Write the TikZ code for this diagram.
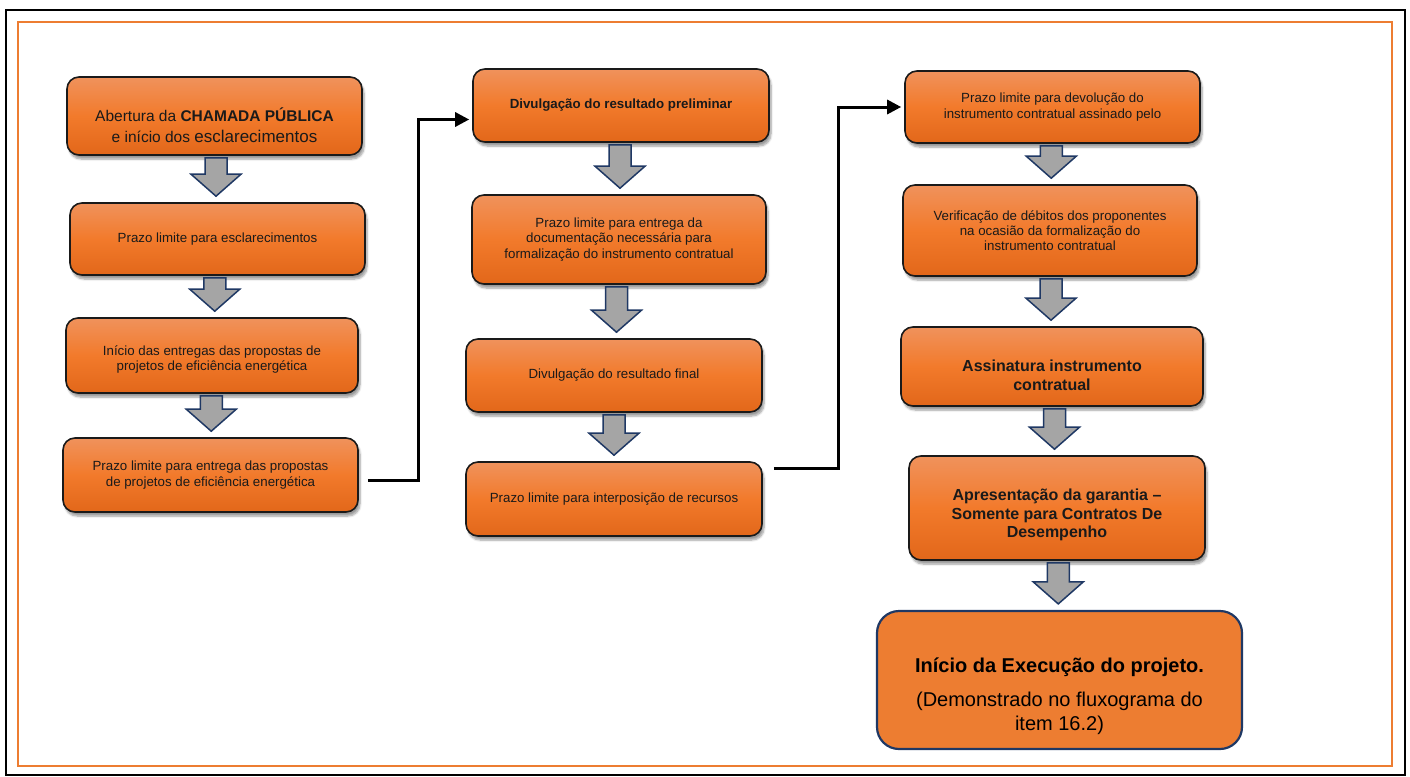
\documentclass[tikz,border=0pt]{standalone}
\usepackage{fontspec}
\setmainfont{Liberation Sans}
\usetikzlibrary{arrows.meta,calc,shadows.blur}

\definecolor{orangeTop}{HTML}{F0925C}
\definecolor{orangeMid}{HTML}{F27A2B}
\definecolor{orangeBot}{HTML}{E2671A}
\definecolor{orangeFlat}{HTML}{ED7D31}
\definecolor{navy}{HTML}{1F3864}
\definecolor{arrowgray}{HTML}{A5A5A5}
\definecolor{inktext}{HTML}{1A1A1A}

% grey block arrow between two boxes of a column
\newcommand{\flowarrow}[2]{%
  \draw[blockarrow] let \p1=(#1.south), \p2=(#2.north), \p3=($(#1.south)!.5!(#2.north)$) in
    (\x3-11pt,\y1-2pt) -- (\x3+11pt,\y1-2pt) -- (\x3+11pt,\y2+28pt) -- (\x3+25pt,\y2+28pt)
    -- (\x3,\y2+6pt) -- (\x3-25pt,\y2+28pt) -- (\x3-11pt,\y2+28pt) -- cycle;}

\begin{document}
\begin{tikzpicture}[x=1pt, y=-1pt]
\tikzstyle{stepr}=[rectangle, rounded corners=12pt, draw=inktext, line width=1.6pt, top color=orangeTop, bottom color=orangeBot, middle color=orangeMid, blur shadow={shadow xshift=2pt, shadow yshift=-4pt, shadow blur steps=6}, align=center, text=inktext, inner sep=2pt, font=\fontsize{13.3}{15.3}\selectfont]
\tikzstyle{stepbig}=[stepr, font=\fontsize{16}{19}\selectfont\bfseries]
\tikzstyle{stepend}=[rectangle, rounded corners=22pt, draw=navy, line width=2.2pt, fill=orangeFlat, align=center, text=black, font=\fontsize{20}{24}\selectfont]
\tikzstyle{blockarrow}=[draw=navy, line width=1.5pt, fill=arrowgray, line join=miter]
\tikzstyle{drawstyle}=[line width=3pt, black, -{Triangle[length=14pt,width=14pt]}, shorten >=3pt]

\useasboundingbox (0,0) rectangle (1410,776);
\draw[black, line width=2pt] (6,10) rectangle (1405,775);
\draw[orangeFlat, line width=1.8pt] (18,22) rectangle (1392,766);

% first column
\node[stepr, minimum width=295pt, minimum height=78pt, font=\fontsize{15.5}{21}\selectfont] (G0x0) at (214.5,116) {\rule{0pt}{32pt}Abertura da \textbf{CHAMADA PÚBLICA}\\e início dos {\fontsize{17}{21}\selectfont esclarecimentos}};
\node[stepr, minimum width=295pt, minimum height=72pt] (G0x1) at (217.5,239) {Prazo limite para esclarecimentos};
\flowarrow{G0x0}{G0x1}
\node[stepr, minimum width=292pt, minimum height=75pt] (G0x2) at (212,355.5) {\rule{0pt}{18pt}Início das entregas das propostas de\\projetos de eficiência energética};
\flowarrow{G0x1}{G0x2}
\node[stepr, minimum width=295pt, minimum height=74pt] (G0x3) at (210.5,475) {Prazo limite para entrega das propostas\\de projetos de eficiência energética};
\flowarrow{G0x2}{G0x3}

% second column
\node[stepr, minimum width=296pt, minimum height=73pt, font=\fontsize{13.3}{15.3}\selectfont\bfseries] (G1x0) at (621,105.5) {Divulgação do resultado preliminar};
\draw[drawstyle] ([xshift=9pt,yshift=-5pt]G0x3.east) -- ++(51,0) |- ([yshift=-14pt]G1x0.west);
\node[stepr, minimum width=294pt, minimum height=89pt] (G1x1) at (619,239.5) {Prazo limite para entrega da\\documentação necessária para\\formalização do instrumento contratual};
\flowarrow{G1x0}{G1x1}
\node[stepr, minimum width=296pt, minimum height=73pt] (G1x2) at (614,375.5) {Divulgação do resultado final};
\flowarrow{G1x1}{G1x2}
\node[stepr, minimum width=296pt, minimum height=74pt] (G1x3) at (614,499) {Prazo limite para interposição de recursos};
\flowarrow{G1x2}{G1x3}

% third column
\node[stepr, minimum width=295pt, minimum height=72pt] (G2x0) at (1052.5,107) {Prazo limite para devolução do\\instrumento contratual assinado pelo};
\draw[drawstyle] ([xshift=11pt,yshift=-7pt]G1x3.north east) -- ++(65,0) |- (G2x0.west);
\node[stepr, minimum width=294pt, minimum height=91pt] (G2x1) at (1050,230.5) {Verificação de débitos dos proponentes\\na ocasião da formalização do\\instrumento contratual};
\flowarrow{G2x0}{G2x1}
\node[stepbig, minimum width=302pt, minimum height=79pt] (G2x2) at (1052,366.5) {\rule{0pt}{29pt}Assinatura instrumento\\contratual};
\flowarrow{G2x1}{G2x2}
\node[stepbig, minimum width=296pt, minimum height=104pt, font=\fontsize{16}{18.5}\selectfont\bfseries] (G2x3) at (1057,508) {\rule{0pt}{26pt}Apresentação da garantia --\\Somente para Contratos De\\Desempenho};
\flowarrow{G2x2}{G2x3}
\node[stepend, minimum width=365pt, minimum height=138pt] (G2x4) at (1059.5,680) {\rule{0pt}{48pt}\textbf{Início da Execução do projeto.}\\[10pt](Demonstrado no fluxograma do\\item 16.2)};
\flowarrow{G2x3}{G2x4}
\end{tikzpicture}
\end{document}
